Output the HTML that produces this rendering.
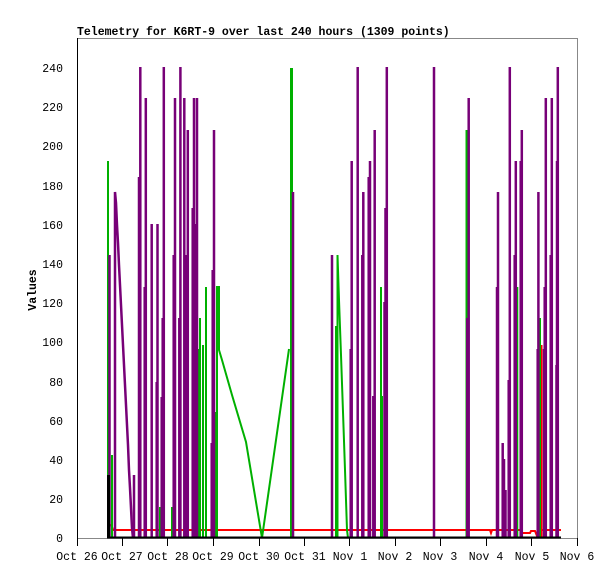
<!DOCTYPE html>
<html><head><style>body{margin:0;background:#fff}svg{display:block}text{font-family:"Liberation Mono",monospace;font-size:11.5px;fill:#000}</style></head><body>
<svg width="615" height="579" viewBox="0 0 615 579" xmlns="http://www.w3.org/2000/svg">
<rect width="615" height="579" fill="#fff"/>
<text x="77" y="35" font-weight="bold">Telemetry for K6RT-9 over last 240 hours (1309 points)</text>
<rect x="77.5" y="38.5" width="500" height="500" fill="none" stroke="#888" stroke-width="1"/>
<line x1="77.5" y1="38" x2="77.5" y2="539" stroke="#000"/>
<g text-anchor="end">
<text x="63" y="542">0</text><text x="63" y="503">20</text><text x="63" y="464">40</text><text x="63" y="425">60</text><text x="63" y="386">80</text><text x="63" y="346">100</text><text x="63" y="307">120</text><text x="63" y="268">140</text><text x="63" y="229">160</text><text x="63" y="190">180</text><text x="63" y="150">200</text><text x="63" y="111">220</text><text x="63" y="72">240</text>
</g>
<text transform="translate(36,290) rotate(-90)" text-anchor="middle" font-weight="bold">Values</text>
<g stroke="#000" stroke-width="1">
<line x1="77.5" y1="538" x2="77.5" y2="546"/><line x1="122.5" y1="538" x2="122.5" y2="546"/><line x1="167.5" y1="538" x2="167.5" y2="546"/><line x1="213.5" y1="538" x2="213.5" y2="546"/><line x1="259.5" y1="538" x2="259.5" y2="546"/><line x1="304.5" y1="538" x2="304.5" y2="546"/><line x1="349.5" y1="538" x2="349.5" y2="546"/><line x1="395.5" y1="538" x2="395.5" y2="546"/><line x1="440.5" y1="538" x2="440.5" y2="546"/><line x1="486.5" y1="538" x2="486.5" y2="546"/><line x1="531.5" y1="538" x2="531.5" y2="546"/><line x1="577.5" y1="538" x2="577.5" y2="546"/>
</g>
<g text-anchor="middle">
<text x="77" y="560">Oct 26</text><text x="122" y="560">Oct 27</text><text x="168" y="560">Oct 28</text><text x="213" y="560">Oct 29</text><text x="259" y="560">Oct 30</text><text x="305" y="560">Oct 31</text><text x="350" y="560">Nov 1</text><text x="395" y="560">Nov 2</text><text x="440" y="560">Nov 3</text><text x="486" y="560">Nov 4</text><text x="532" y="560">Nov 5</text><text x="577" y="560">Nov 6</text>
</g>
<polyline fill="none" stroke="#f00" stroke-width="2" points="111,524 113,530 490,530 491,533 492,530 520,530 522,533 530,533 531,531 535,531 537,536 540,536 541,530 561,530"/>
<line x1="541.5" y1="345" x2="541.5" y2="538" stroke="#f00" stroke-width="2"/>
<g stroke="#00b000" stroke-width="2" fill="none">
<line x1="108" y1="161" x2="108" y2="538"/>
<line x1="112" y1="455" x2="112" y2="538"/>
<line x1="160" y1="507" x2="160" y2="538"/>
<line x1="172" y1="507" x2="172" y2="538"/>
<line x1="199" y1="349" x2="199" y2="538"/>
<line x1="200" y1="318" x2="200" y2="538"/>
<line x1="203" y1="345" x2="203" y2="538"/>
<line x1="206" y1="287" x2="206" y2="538"/>
<line x1="216" y1="412" x2="216" y2="538"/>
<polyline points="217,538 217,287 219,287 219,350 222,360 232,395 246,442 262,538 289,349"/>
<line x1="291.5" y1="68" x2="291.5" y2="538" stroke-width="3"/>
<line x1="336" y1="326" x2="336" y2="538"/>
<polyline points="337.5,538 337.5,255 339,300 341,355 343,412 345,470 347,530 348,538"/>
<line x1="381" y1="287" x2="381" y2="538"/>
<line x1="382" y1="396" x2="382" y2="538"/>
<line x1="386" y1="349" x2="386" y2="538"/>
<line x1="466.5" y1="130" x2="466.5" y2="538"/>
<line x1="517.3" y1="287" x2="517.3" y2="538"/>
<line x1="540" y1="318" x2="540" y2="538"/>
</g>
<g stroke="#770077" stroke-width="2.5" fill="none">
<line x1="109.5" y1="255" x2="109.5" y2="538"/>
<polyline points="115,538 115,192 116,203 117,225 118,243 119,265 120,285 121,305 122,325 123,345 124,365 125,385 126,405 127,425 128,445 129,470 130,488 131,508 132,528 133,538"/>
<line x1="134" y1="475" x2="134" y2="538"/>
<line x1="139" y1="177" x2="139" y2="538"/>
<line x1="140.3" y1="67" x2="140.3" y2="538"/>
<line x1="144.7" y1="287" x2="144.7" y2="538"/>
<line x1="145.8" y1="98" x2="145.8" y2="538"/>
<line x1="151.7" y1="224" x2="151.7" y2="538"/>
<line x1="156.7" y1="382" x2="156.7" y2="538"/>
<line x1="157.5" y1="224" x2="157.5" y2="538"/>
<line x1="161.7" y1="397" x2="161.7" y2="538"/>
<line x1="162.7" y1="318" x2="162.7" y2="538"/>
<line x1="163.8" y1="67" x2="163.8" y2="538"/>
<line x1="173.7" y1="255" x2="173.7" y2="538"/>
<line x1="175" y1="98" x2="175" y2="538"/>
<line x1="179.3" y1="318" x2="179.3" y2="538"/>
<line x1="180.4" y1="67" x2="180.4" y2="538"/>
<line x1="184.3" y1="98" x2="184.3" y2="538"/>
<line x1="186.7" y1="255" x2="186.7" y2="538"/>
<line x1="187.8" y1="130" x2="187.8" y2="538"/>
<line x1="192.7" y1="208" x2="192.7" y2="538"/>
<line x1="194" y1="98" x2="194" y2="538"/>
<line x1="196" y1="224" x2="196" y2="538"/>
<line x1="197" y1="98" x2="197" y2="538"/>
<line x1="211.7" y1="443" x2="211.7" y2="538"/>
<line x1="212.7" y1="270" x2="212.7" y2="538"/>
<line x1="214" y1="130" x2="214" y2="538"/>
<line x1="293" y1="192" x2="293" y2="538"/>
<line x1="332" y1="255" x2="332" y2="538"/>
<line x1="350.7" y1="349" x2="350.7" y2="538"/>
<line x1="351.7" y1="161" x2="351.7" y2="538"/>
<line x1="357.7" y1="67" x2="357.7" y2="538"/>
<line x1="362.3" y1="255" x2="362.3" y2="538"/>
<line x1="363.3" y1="192" x2="363.3" y2="538"/>
<line x1="368.7" y1="177" x2="368.7" y2="538"/>
<line x1="370" y1="161" x2="370" y2="538"/>
<line x1="373.3" y1="396" x2="373.3" y2="538"/>
<line x1="374.7" y1="130" x2="374.7" y2="538"/>
<line x1="384.5" y1="302" x2="384.5" y2="538"/>
<line x1="385.5" y1="208" x2="385.5" y2="538"/>
<line x1="386.8" y1="67" x2="386.8" y2="538"/>
<line x1="434" y1="67" x2="434" y2="538"/>
<line x1="467.3" y1="318" x2="467.3" y2="538"/>
<line x1="468.7" y1="98" x2="468.7" y2="538"/>
<line x1="497" y1="287" x2="497" y2="538"/>
<line x1="498" y1="192" x2="498" y2="538"/>
<line x1="502.7" y1="443" x2="502.7" y2="538"/>
<line x1="504" y1="459" x2="504" y2="538"/>
<line x1="505.5" y1="490" x2="505.5" y2="538"/>
<line x1="508.7" y1="380" x2="508.7" y2="538"/>
<line x1="509.8" y1="67" x2="509.8" y2="538"/>
<line x1="514.7" y1="255" x2="514.7" y2="538"/>
<line x1="515.8" y1="161" x2="515.8" y2="538"/>
<line x1="520.7" y1="161" x2="520.7" y2="538"/>
<line x1="521.8" y1="130" x2="521.8" y2="538"/>
<line x1="537.7" y1="349" x2="537.7" y2="538"/>
<line x1="538.4" y1="192" x2="538.4" y2="538"/>
<line x1="544" y1="349" x2="544" y2="538"/>
<line x1="544.7" y1="287" x2="544.7" y2="538"/>
<line x1="545.8" y1="98" x2="545.8" y2="538"/>
<line x1="550.7" y1="255" x2="550.7" y2="538"/>
<line x1="551.8" y1="98" x2="551.8" y2="538"/>
<line x1="556.5" y1="365" x2="556.5" y2="538"/>
<line x1="557" y1="161" x2="557" y2="538"/>
<line x1="557.8" y1="67" x2="557.8" y2="538"/>
</g>
<rect x="107" y="475" width="3" height="63" fill="#000"/>
<line x1="107" y1="537.5" x2="561" y2="537.5" stroke="#000" stroke-width="2"/>
</svg>
</body></html>
